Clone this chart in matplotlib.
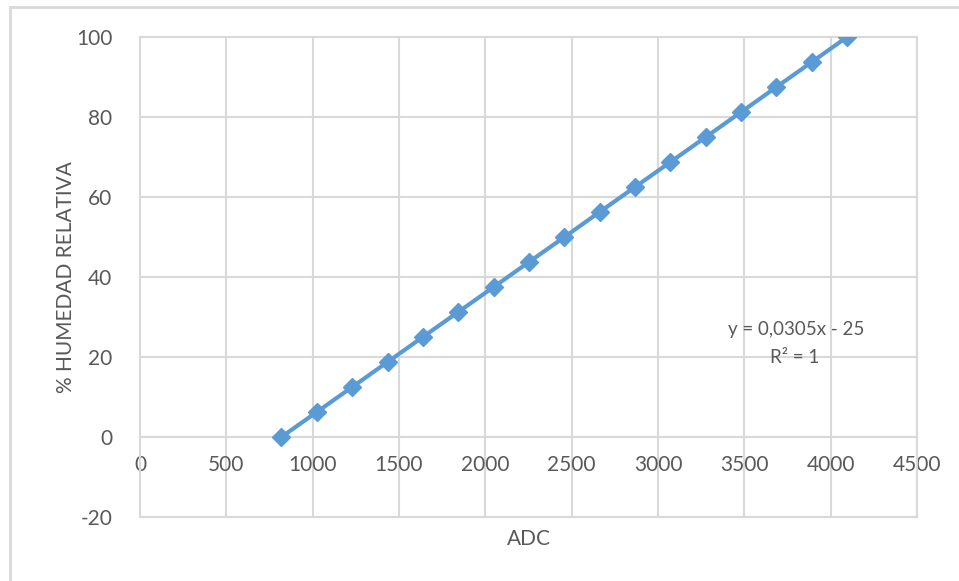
import matplotlib.pyplot as plt
from matplotlib.lines import Line2D

plt.rcParams['font.family'] = ['Lato', 'DejaVu Sans']
plt.rcParams['axes.unicode_minus'] = False

adc = [819, 1024, 1229, 1434, 1638, 1843, 2048, 2253, 2458, 2662, 2867,
       3072, 3277, 3482, 3686, 3891, 4095]
humedad = [0, 6.25, 12.5, 18.75, 25, 31.25, 37.5, 43.75, 50, 56.25, 62.5,
           68.75, 75, 81.25, 87.5, 93.75, 100]
x_ticks = [0, 500, 1000, 1500, 2000, 2500, 3000, 3500, 4000, 4500]
y_ticks = [-20, 0, 20, 40, 60, 80, 100]

txt = '#595959'
grid = '#d9d9d9'
blue = '#5b9bd5'

fig = plt.figure(figsize=(9.59, 5.81), dpi=100)
ax = fig.add_axes([140/959, 1-517/581, 777/959, 480/581])

# outer chart frame (only top and left edge visible)
fig.add_artist(Line2D([10/959, 1], [1-7/581, 1-7/581], color=grid, lw=2))
fig.add_artist(Line2D([10/959, 10/959], [0, 1-7/581], color=grid, lw=2))

ax.plot(adc, humedad, color=blue, lw=3, marker='D', markersize=9,
        markerfacecolor=blue, markeredgecolor=blue, zorder=3)

ax.set_xlim(0, 4500)
ax.set_ylim(-20, 100)
ax.set_xticks(x_ticks)
ax.set_yticks(y_ticks)
ax.grid(True, color=grid, lw=1.5)
ax.set_axisbelow(True)

for s in ['top', 'right', 'left']:
    ax.spines[s].set_color(grid)
    ax.spines[s].set_linewidth(1.5)
ax.spines['bottom'].set_position(('data', 0))
ax.spines['bottom'].set_color(grid)
ax.spines['bottom'].set_linewidth(1.5)
ax.plot([0, 4500], [-20, -20], color=grid, lw=1.5, clip_on=False, zorder=1)

ax.tick_params(length=0, labelsize=15, colors=txt)
ax.tick_params(axis='x', pad=13)
ax.tick_params(axis='y', pad=20)

ax.set_xlabel('ADC', fontsize=15, color=txt)
ax.xaxis.set_label_coords(0.5, -12/480)
ax.set_ylabel('% HUMEDAD RELATIVA', fontsize=15, color=txt)
ax.yaxis.set_label_coords(-(140-76)/777, 0.5)

ax.text(0.844, 0.3896, 'y = 0,0305x - 25', transform=ax.transAxes,
        ha='center', va='center', fontsize=13.5, color=txt)
ax.text(0.843, 0.333, 'R² = 1', transform=ax.transAxes,
        ha='center', va='center', fontsize=13.5, color=txt)

fig.savefig('out.png', dpi=100)
